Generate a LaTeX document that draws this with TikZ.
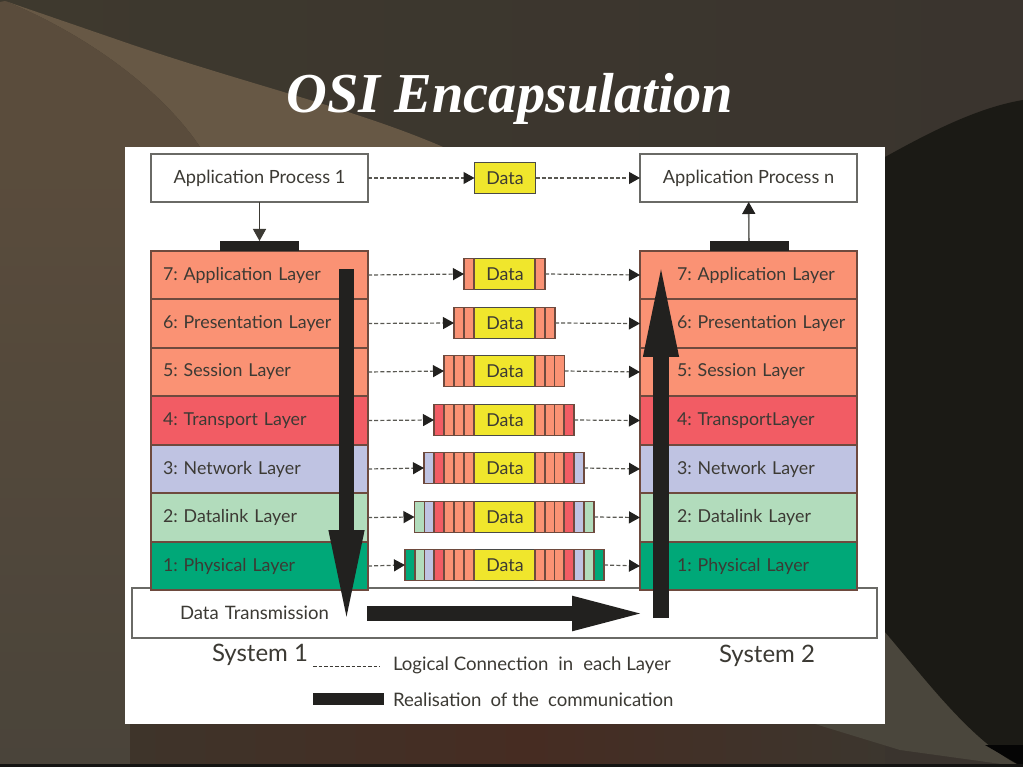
\documentclass[tikz,border=0pt]{standalone}
\usepackage{fontspec}
\setmainfont{Lato}
\newfontfamily\titlefont{Liberation Serif}
\usetikzlibrary{arrows.meta}
\definecolor{laysev}{HTML}{FA9274}
\definecolor{layfou}{HTML}{F25C64}
\definecolor{laythr}{HTML}{BFC3E2}
\definecolor{laytwo}{HTML}{B2DCBC}
\definecolor{layone}{HTML}{00A878}
\definecolor{datayel}{HTML}{F0E62C}
\definecolor{inkdark}{HTML}{22211F}
\definecolor{inktext}{HTML}{3C3A34}
\definecolor{edgegray}{HTML}{6A6A66}
\definecolor{edgebrown}{HTML}{6E4A3E}
\begin{document}
\begin{tikzpicture}[x=1pt,y=-1pt,
every node/.style={outer sep=0pt, text=inktext, font=\frenchspacing\fontsize{17.8}{20}\selectfont},
cell/.style={draw=edgebrown, line width=1.5pt, minimum width=10pt, minimum height=31pt, inner sep=0pt},
databox/.style={draw=edgegray!70!black, line width=1.3pt, fill=datayel, minimum width=61pt, minimum height=31pt, inner sep=0pt},
leftlay/.style={draw=edgebrown, line width=1.6pt, minimum height=48.5pt, inner ysep=0pt, inner xsep=12pt, text width=193pt, align=left},
rightlay/.style={draw=edgebrown, line width=1.6pt, minimum height=48.5pt, inner ysep=0pt, inner xsep=0pt, text width=217pt, align=left, execute at begin node=\hspace*{37pt}},
appbox/.style={draw=edgegray, line width=1.3pt, fill=white, minimum width=217pt, minimum height=48pt, inner sep=0pt, font=\frenchspacing\fontsize{18.2}{20}\selectfont},
blackbar/.style={fill=inkdark, minimum width=79pt, minimum height=10pt, inner sep=0pt},
logical/.style={draw=inktext!85!white, line width=1.2pt, dash pattern=on 4pt off 2.2pt, -{Triangle[length=11pt,width=12pt,color=inkdark]}},
bigarrow/.style={draw=inkdark, line width=15.5pt}]
\useasboundingbox (0,0) rectangle (1023,767);

\fill[color={rgb,255:red,58;green,52;blue,46}] (0,0) rectangle (1023,767);
\shade[left color={rgb,255:red,62;green,57;blue,46}, right color={rgb,255:red,58;green,52;blue,46}] (0,0) rectangle (1023,160);
\shade[top color={rgb,255:red,90;green,76;blue,60}, bottom color={rgb,255:red,74;green,68;blue,58}] (0,150) rectangle (130,767);
\fill[color={rgb,255:red,103;green,88;blue,69}] (5,1) -- (130,44) .. controls (250,85) and (360,110) .. (450,150) -- (202,150) .. controls (170,100) and (100,40) .. cycle;
\fill[color={rgb,255:red,90;green,76;blue,60}] (0,2) -- (5,1) .. controls (100,40) and (170,100) .. (202,150) -- (0,150) -- cycle;
\shade[left color={rgb,255:red,62;green,52;blue,42}, right color={rgb,255:red,70;green,44;blue,34}] (130,724) rectangle (530,767);
\shade[left color={rgb,255:red,70;green,44;blue,34}, right color={rgb,255:red,60;green,54;blue,46}] (530,724) rectangle (885,767);
\fill[color={rgb,255:red,74;green,70;blue,60}] (885,625) -- (1023,625) -- (1023,767) -- (900,750) -- (815,724) -- (885,724) -- cycle;
\fill[color={rgb,255:red,27;green,26;blue,21}] (885,157) .. controls (925,135) and (975,108) .. (1023,100) -- (1023,767) .. controls (975,745) and (930,685) .. (885,632) -- cycle;
\fill[color={rgb,255:red,5;green,5;blue,5}] (1023,745) -- (985,745) -- (1023,767) -- cycle;
\fill[color={rgb,255:red,20;green,20;blue,18}] (0,764) rectangle (1023,767);
\fill[white] (125,147) rectangle (885,724);

\node[text=white, font=\titlefont\bfseries\itshape\fontsize{56.4}{60}\selectfont] (title) at (510,99) {OSI Encapsulation};

\node[draw=edgegray, line width=1.3pt, fill=white, minimum width=745pt, minimum height=50pt, inner ysep=0pt, inner xsep=48pt, text width=649pt, align=left, font=\frenchspacing\fontsize{18.5}{20}\selectfont] (trans) at (504.5,613) {Data Transmission};

\node[appbox] (app1) at (259.5,178) {Application Process 1};
\node[appbox] (appn) at (748.5,178) {Application Process n};
\node[databox] (dat0) at (505,178) {Data};

\node[leftlay, fill=laysev] (lft7) at (259.5,275) {7: Application Layer};
\node[leftlay, fill=laysev] (lft6) at (259.5,323.5) {6: Presentation Layer};
\node[leftlay, fill=laysev] (lft5) at (259.5,372) {5: Session Layer};
\node[leftlay, fill=layfou] (lft4) at (259.5,420.5) {4: Transport Layer};
\node[leftlay, fill=laythr] (lft3) at (259.5,469) {3: Network Layer};
\node[leftlay, fill=laytwo] (lft2) at (259.5,517.5) {2: Datalink Layer};
\node[leftlay, fill=layone] (lft1) at (259.5,566) {1: Physical Layer};

\node[rightlay, fill=laysev] (rgt7) at (748.5,275) {7: Application Layer};
\node[rightlay, fill=laysev] (rgt6) at (748.5,323.5) {6: Presentation Layer};
\node[rightlay, fill=laysev] (rgt5) at (748.5,372) {5: Session Layer};
\node[rightlay, fill=layfou] (rgt4) at (748.5,420.5) {4: TransportLayer};
\node[rightlay, fill=laythr] (rgt3) at (748.5,469) {3: Network Layer};
\node[rightlay, fill=laytwo] (rgt2) at (748.5,517.5) {2: Datalink Layer};
\node[rightlay, fill=layone] (rgt1) at (748.5,566) {1: Physical Layer};

\node[blackbar] (barl) at (259.5,246) {};
\node[blackbar] (barr) at (749,246) {};

\node[databox] (dat7) at (505,274) {Data};
\node[databox] (dat6) at (505,323) {Data};
\node[databox] (dat5) at (505,371) {Data};
\node[databox] (dat4) at (505,420) {Data};
\node[databox] (dat3) at (505,468) {Data};
\node[databox] (dat2) at (505,517) {Data};
\node[databox] (dat1) at (505,565) {Data};

\node[cell, fill=laysev] (a7) at (469,274) {};
\node[cell, fill=laysev] (b7) at (540,274) {};

\node[cell, fill=laysev] (a6) at (469,323) {};
\node[cell, fill=laysev] (c6) at (459,323) {};
\node[cell, fill=laysev] (b6) at (540,323) {};
\node[cell, fill=laysev] (d6) at (550,323) {};

\node[cell, fill=laysev] (a5) at (469,371) {};
\node[cell, fill=laysev] (c5) at (459,371) {};
\node[cell, fill=laysev] (e5) at (449,371) {};
\node[cell, fill=laysev] (b5) at (540,371) {};
\node[cell, fill=laysev] (d5) at (550,371) {};
\node[cell, fill=laysev] (f5) at (559.5,371) {};

\node[cell, fill=laysev] (a4) at (469,420) {};
\node[cell, fill=laysev] (c4) at (459,420) {};
\node[cell, fill=laysev] (e4) at (449,420) {};
\node[cell, fill=layfou] (g4) at (439,420) {};
\node[cell, fill=laysev] (b4) at (540,420) {};
\node[cell, fill=laysev] (d4) at (550,420) {};
\node[cell, fill=laysev] (f4) at (559.5,420) {};
\node[cell, fill=layfou] (h4) at (569,420) {};

\node[cell, fill=laysev] (a3) at (469,468) {};
\node[cell, fill=laysev] (c3) at (459,468) {};
\node[cell, fill=laysev] (e3) at (449,468) {};
\node[cell, fill=layfou] (g3) at (439,468) {};
\node[cell, fill=laythr] (i3) at (429,468) {};
\node[cell, fill=laysev] (b3) at (540,468) {};
\node[cell, fill=laysev] (d3) at (550,468) {};
\node[cell, fill=laysev] (f3) at (559.5,468) {};
\node[cell, fill=layfou] (h3) at (569,468) {};
\node[cell, fill=laythr] (j3) at (579,468) {};

\node[cell, fill=laysev] (a2) at (469,517) {};
\node[cell, fill=laysev] (c2) at (459,517) {};
\node[cell, fill=laysev] (e2) at (449,517) {};
\node[cell, fill=layfou] (g2) at (439,517) {};
\node[cell, fill=laythr] (i2) at (429,517) {};
\node[cell, fill=laytwo] (k2) at (419.5,517) {};
\node[cell, fill=laysev] (b2) at (540,517) {};
\node[cell, fill=laysev] (d2) at (550,517) {};
\node[cell, fill=laysev] (f2) at (559.5,517) {};
\node[cell, fill=layfou] (h2) at (569,517) {};
\node[cell, fill=laythr] (j2) at (579,517) {};
\node[cell, fill=laytwo] (l2) at (589,517) {};

\node[cell, fill=laysev] (a1) at (469,565) {};
\node[cell, fill=laysev] (c1) at (459,565) {};
\node[cell, fill=laysev] (e1) at (449,565) {};
\node[cell, fill=layfou] (g1) at (439,565) {};
\node[cell, fill=laythr] (i1) at (429,565) {};
\node[cell, fill=laytwo] (k1) at (419.5,565) {};
\node[cell, fill=layone] (m1) at (410,565) {};
\node[cell, fill=laysev] (b1) at (540,565) {};
\node[cell, fill=laysev] (d1) at (550,565) {};
\node[cell, fill=laysev] (f1) at (559.5,565) {};
\node[cell, fill=layfou] (h1) at (569,565) {};
\node[cell, fill=laythr] (j1) at (579,565) {};
\node[cell, fill=laytwo] (l1) at (589,565) {};
\node[cell, fill=layone] (n1) at (599,565) {};

\draw[logical] (app1) -- (dat0);
\draw[logical] (dat0) -- (appn);
\draw[logical] (lft7.east) -- (a7.west);
\draw[logical] (lft6.east) -- (c6.west);
\draw[logical] (lft5.east) -- (e5.west);
\draw[logical] (lft4.east) -- (g4.west);
\draw[logical] (lft3.east) -- (i3.west);
\draw[logical] (lft2.east) -- (k2.west);
\draw[logical] (lft1.east) -- (m1.west);
\draw[logical] (b7.east) -- (rgt7.west);
\draw[logical] (d6.east) -- (rgt6.west);
\draw[logical] (f5.east) -- (rgt5.west);
\draw[logical] (h4.east) -- (rgt4.west);
\draw[logical] (j3.east) -- (rgt3.west);
\draw[logical] (l2.east) -- (rgt2.west);
\draw[logical] (n1.east) -- (rgt1.west);

\draw[line width=1.3pt, draw=inktext, -{Triangle[length=12pt,width=13pt]}] (app1) -- (barl);
\draw[line width=1.6pt, draw=edgegray, -{Triangle[length=12pt,width=13pt,color=inkdark]}] (barr) -- (appn);

\coordinate (downa) at (346.5,269);
\coordinate (downb) at (346.5,629);
\coordinate (upa) at (661,618);
\coordinate (upb) at (661,257);
\coordinate (acrossa) at (367,613.5);
\coordinate (acrossb) at (651,613.5);
\draw[bigarrow, -{Triangle[length=99pt,width=31pt]}] (downa) -- (downb);
\draw[bigarrow, -{Triangle[length=100pt,width=31pt]}] (upa) -- (upb);
\draw[bigarrow, -{Triangle[length=79pt,width=30pt]}] (acrossa) -- (acrossb);

\node[font=\fontsize{24}{26}\selectfont] (sys1) at (260,655) {System 1};
\node[font=\fontsize{24}{26}\selectfont] (sys2) at (767,656) {System 2};
\coordinate (keya) at (313,666);
\coordinate (keyb) at (380,666);
\draw[draw=inktext, line width=1pt, dash pattern=on 3.5pt off 2pt] (keya) -- (keyb);
\node[anchor=west, inner sep=0pt, font=\frenchspacing\fontsize{18.6}{20}\selectfont] (keytxta) at (393,665) {Logical Connection\hspace{10pt}in\hspace{10pt}each Layer};
\node[blackbar, minimum width=71pt, minimum height=12pt] (keybar) at (348,699) {};
\node[anchor=west, inner sep=0pt, font=\frenchspacing\fontsize{18.6}{20}\selectfont] (keytxtb) at (393,700) {Realisation\hspace{9pt}of the\hspace{9pt}communication};
\end{tikzpicture}
\end{document}
